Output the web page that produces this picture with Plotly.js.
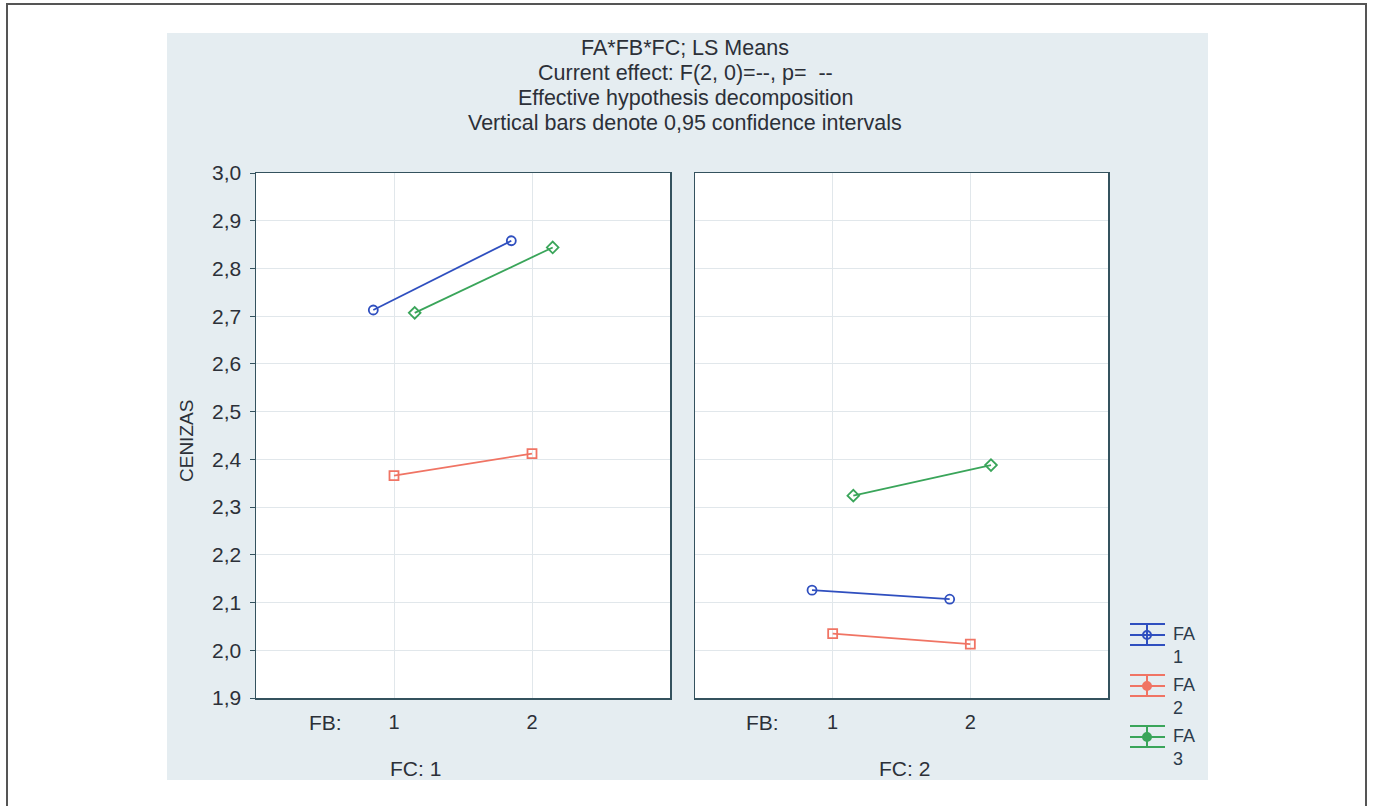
<!DOCTYPE html>
<html>
<head>
<meta charset="utf-8">
<script src="https://cdn.plot.ly/plotly-3.0.1.min.js"></script>
<style>html,body{margin:0;padding:0;background:#fff;}#chart{width:1373px;height:806px;}</style>
</head>
<body>
<div id="chart"></div>
<script>
// ---- data ----
const fbLevels = [1, 2];
const faNames = ['FA 1', 'FA 2', 'FA 3'];
const fcNames = ['FC: 1', 'FC: 2'];
const fc1_fa1 = [2.713, 2.858];
const fc1_fa2 = [2.366, 2.412];
const fc1_fa3 = [2.707, 2.844];
const fc2_fa1 = [2.126, 2.107];
const fc2_fa2 = [2.035, 2.013];
const fc2_fa3 = [2.324, 2.388];
const yTicks = [1.9, 2.0, 2.1, 2.2, 2.3, 2.4, 2.5, 2.6, 2.7, 2.8, 2.9, 3.0];
const titleLines = ['FA*FB*FC; LS Means', 'Current effect: F(2, 0)=--, p=  --',
  'Effective hypothesis decomposition', 'Vertical bars denote 0,95 confidence intervals'];

// ---- style ----
const W = 1373, H = 806;
const px = x => x / W, py = y => 1 - y / H;
const colors = ['#2f4fbf', '#f07464', '#3aa55a'];
const symbols = ['circle-open', 'square-open', 'diamond-open'];
const dodge = [-0.15, 0, 0.15];
const FONT = 'Liberation Sans, Arial, sans-serif';
const TXT = '#2c3038';

const seriesByFc = [[fc1_fa1, fc1_fa2, fc1_fa3], [fc2_fa1, fc2_fa2, fc2_fa3]];
const traces = [];
seriesByFc.forEach((group, p) => {
  group.forEach((vals, i) => {
    traces.push({
      type: 'scatter', mode: 'lines+markers',
      x: fbLevels.map(v => v + dodge[i]), y: vals,
      xaxis: p === 0 ? 'x' : 'x2', yaxis: p === 0 ? 'y' : 'y2',
      name: faNames[i], showlegend: false,
      line: {color: colors[i], width: 1.8},
      marker: {symbol: symbols[i], size: 9, color: colors[i], line: {width: 1.8, color: colors[i]}}
    });
  });
});

const xBase = {
  range: [0, 3], tickvals: fbLevels, ticktext: fbLevels.map(String),
  showgrid: true, gridcolor: '#e1e7eb', gridwidth: 1,
  showline: true, mirror: true, linecolor: '#34525e', linewidth: 1.5,
  ticks: 'outside', ticklen: 5, tickcolor: 'rgba(0,0,0,0)',
  tickfont: {family: FONT, size: 20, color: TXT}, zeroline: false, fixedrange: true
};
const yBase = {
  range: [1.9, 3.0], tickvals: yTicks, tickformat: '.1f',
  showgrid: true, gridcolor: '#e1e7eb', gridwidth: 1,
  showline: true, mirror: true, linecolor: '#34525e', linewidth: 1.5,
  zeroline: false, fixedrange: true,
  domain: [py(698), py(173)]
};

const shapes = [
  {type: 'rect', xref: 'paper', yref: 'paper', x0: px(167), x1: px(1208), y0: py(780), y1: py(33),
   fillcolor: '#e5edf1', line: {width: 0}, layer: 'below'},
  {type: 'rect', xref: 'paper', yref: 'paper', x0: px(256), x1: px(670), y0: py(698), y1: py(173),
   fillcolor: '#ffffff', line: {width: 0}, layer: 'below'},
  {type: 'rect', xref: 'paper', yref: 'paper', x0: px(695), x1: px(1108), y0: py(698), y1: py(173),
   fillcolor: '#ffffff', line: {width: 0}, layer: 'below'},
  {type: 'path', xref: 'paper', yref: 'paper',
   path: `M ${px(7)} ${py(810)} L ${px(7)} ${py(4)} L ${px(1366)} ${py(4)} L ${px(1366)} ${py(810)}`,
   line: {color: '#555555', width: 2}, layer: 'below'}
];

const annotations = [];
const ann = (x, y, text, size, extra) => annotations.push(Object.assign({xref: 'paper', yref: 'paper',
  x: px(x), y: py(y), text: text, showarrow: false, xanchor: 'center', yanchor: 'middle',
  font: {family: FONT, size: size, color: TXT}}, extra || {}));
titleLines.forEach((t, k) => ann(685, 48 + 25 * k, t, 21.5));
ann(186, 441, 'CENIZAS', 19, {textangle: -90});
[325, 763].forEach(xp => ann(xp, 722, 'FB:', 21));
[415, 904].forEach((xp, k) => ann(xp, 768, fcNames[k], 21));

// manual legend (error-bar style icons)
const legMid = [635, 686, 737];
faNames.forEach((n, i) => {
  const c = colors[i], m = legMid[i];
  [-11, 0, 10].forEach(d => shapes.push({type: 'line', xref: 'paper', yref: 'paper',
    x0: px(1130), x1: px(1165), y0: py(m + d), y1: py(m + d), line: {color: c, width: 2}}));
  shapes.push({type: 'line', xref: 'paper', yref: 'paper', x0: px(1147), x1: px(1147),
    y0: py(m - 11), y1: py(m + 10), line: {color: c, width: 2}});
  shapes.push({type: 'circle', xref: 'paper', yref: 'paper', x0: px(1143), x1: px(1151),
    y0: py(m + 4), y1: py(m - 4), fillcolor: i === 0 ? 'rgba(0,0,0,0)' : c, line: {color: c, width: 2}});
  const parts = n.split(' ');
  ann(1171, m - 13, parts[0] + '<br>' + parts[1], 18, {xanchor: 'left', yanchor: 'top', align: 'left',
    font: {family: FONT, size: 18, color: '#2c3c4c'}});
});

const layout = {
  width: W, height: H, margin: {l: 0, r: 0, t: 0, b: 0},
  paper_bgcolor: '#ffffff', plot_bgcolor: '#ffffff',
  separators: ', ', showlegend: false,
  xaxis: Object.assign({}, xBase, {domain: [px(256), px(670)], anchor: 'y'}),
  xaxis2: Object.assign({}, xBase, {domain: [px(695), px(1108)], anchor: 'y2'}),
  yaxis: Object.assign({}, yBase, {anchor: 'x', ticks: 'outside', ticklen: 5, tickcolor: '#34525e',
    tickfont: {family: FONT, size: 21, color: TXT}, ticklabelstandoff: 4}),
  yaxis2: Object.assign({}, yBase, {anchor: 'x2', showticklabels: false, ticks: ''}),
  shapes: shapes, annotations: annotations
};

Plotly.newPlot('chart', traces, layout, {displayModeBar: false, staticPlot: true});
</script>
</body>
</html>
